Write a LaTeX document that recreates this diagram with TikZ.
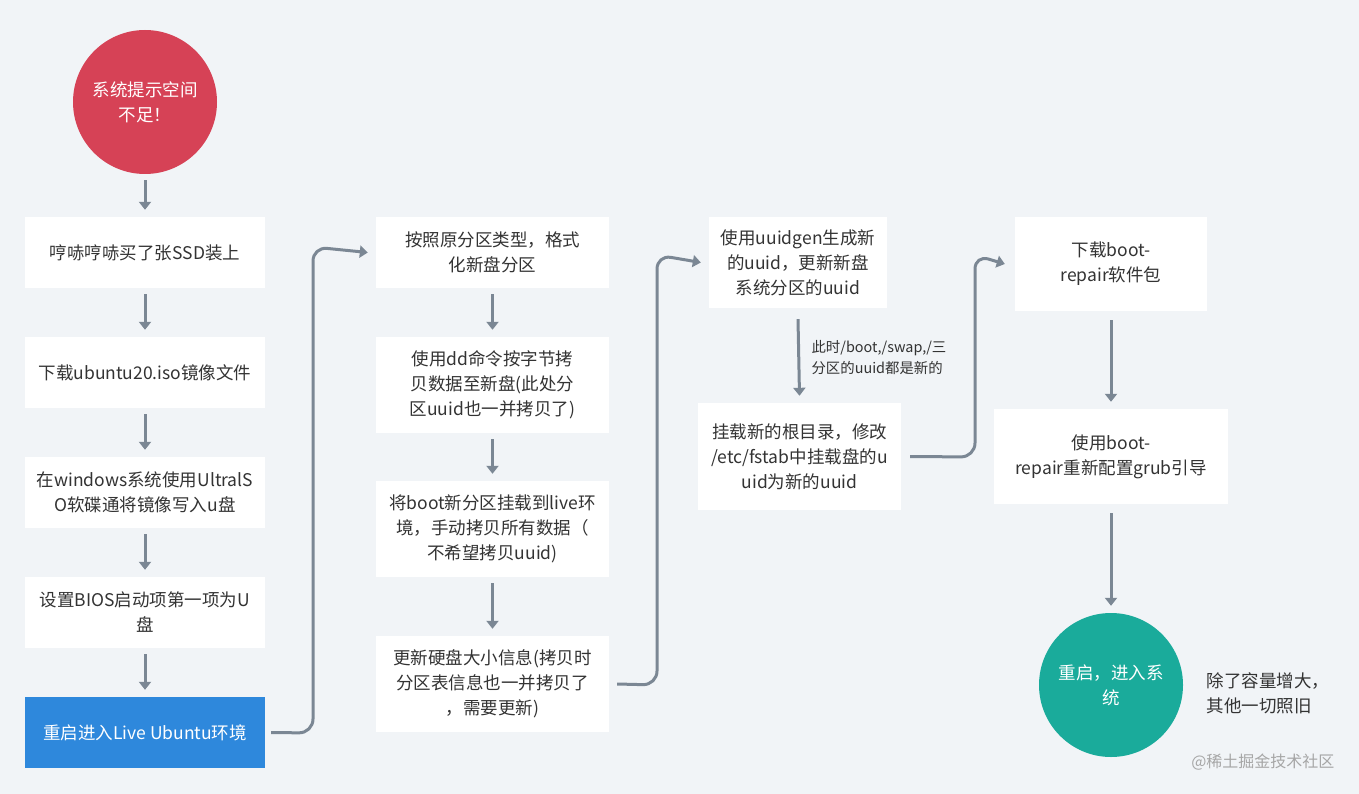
\documentclass[tikz,border=0pt]{standalone}
\usepackage{fontspec}
\setmainfont{Noto Sans CJK SC}
\usetikzlibrary{arrows.meta}
\definecolor{bg}{HTML}{F1F4F7}
\definecolor{ar}{HTML}{7B8794}
\definecolor{red1}{HTML}{D64256}
\definecolor{blu}{HTML}{2E88DC}
\definecolor{teal1}{HTML}{1AAB9B}
\definecolor{txt}{HTML}{333333}
\tikzset{
 box/.style={fill=white,text=txt,align=center,font=\fontsize{17.5}{25}\selectfont,inner sep=0pt},
 arr/.style={draw=ar,line width=3pt,-{Triangle[length=8pt,width=12pt]}},
 conn/.style={arr,rounded corners=14pt},
}
\begin{document}
\begin{tikzpicture}[x=1pt,y=-1pt]
\fill[bg] (0,0) rectangle (1359,794);
\useasboundingbox (0,0) rectangle (1359,794);
\node[circle,fill=red1,minimum size=144pt,text=white,align=center,font=\fontsize{17.5}{25}\selectfont] (s) at (145,102) {系统提示空间\\不足！};
\node[box,minimum width=240pt,minimum height=71pt] (b1) at (145,252.5) {哼哧哼哧买了张SSD装上};
\node[box,minimum width=240pt,minimum height=71pt] (b2) at (145,372.5) {下载ubuntu20.iso镜像文件};
\node[box,minimum width=240pt,minimum height=71pt] (b3) at (145,492.5) {在windows系统使用UltralS\\O软碟通将镜像写入u盘};
\node[box,minimum width=240pt,minimum height=71pt] (b4) at (145,612.5) {设置BIOS启动项第一项为U\\盘};
\node[box,fill=blu,text=white,minimum width=240pt,minimum height=71pt] (b5) at (145,732.5) {重启进入Live Ubuntu环境};
\foreach \a/\b in {s/b1,b1/b2,b2/b3,b3/b4,b4/b5} \draw[arr] ([yshift=-6pt]\a.south) -- ([yshift=7pt]\b.north);

\node[box,minimum width=233pt,minimum height=71pt] (c1) at (492.5,252.5) {按照原分区类型，格式\\化新盘分区};
\node[box,minimum width=233pt,minimum height=96pt] (c2) at (492.5,385) {使用dd命令按字节拷\\贝数据至新盘(此处分\\区uuid也一并拷贝了)};
\node[box,minimum width=233pt,minimum height=96pt] (c3) at (492.5,529) {将boot新分区挂载到live环\\境，手动拷贝所有数据（\\不希望拷贝uuid)};
\node[box,minimum width=233pt,minimum height=96pt] (c4) at (492.5,684) {更新硬盘大小信息(拷贝时\\分区表信息也一并拷贝了\\，需要更新)};
\foreach \a/\b in {c1/c2,c2/c3,c3/c4} \draw[arr] ([yshift=-6pt]\a.south) -- ([yshift=7pt]\b.north);
\draw[conn] ([xshift=6pt]b5.east) -- (313,733) -- (313,247) -- ([xshift=-8pt]c1.west);

\node[box,minimum width=178pt,minimum height=91pt] (d1) at (798,262.5) {使用uuidgen生成新\\的uuid，更新新盘\\系统分区的uuid};
\node[box,minimum width=203pt,minimum height=107pt] (d2) at (799.5,456.5) {挂载新的根目录，修改\\/etc/fstab中挂载盘的u\\uid为新的uuid};
\draw[arr] ([yshift=-11pt]d1.south) -- ([yshift=7pt]d2.north) node[midway,right=8pt,align=left,text=txt,font=\fontsize{14.4}{21}\selectfont] {此时/boot,/swap,/三\\分区的uuid都是新的};
\draw[conn] ([xshift=8pt]c4.east) -- (657,685) -- (657,255) -- ([xshift=-8pt]d1.west);

\node[box,minimum width=192pt,minimum height=94pt] (e1) at (1111,264) {下载boot-\\repair软件包};
\node[box,minimum width=234pt,minimum height=95pt] (e2) at (1111,456.5) {使用boot-\\repair重新配置grub引导};
\node[circle,fill=teal1,minimum size=144pt,text=white,align=center,font=\fontsize{17.5}{25}\selectfont] (f) at (1111,685) {重启，进入系\\统};
\draw[arr] ([yshift=-9pt]e1.south) -- ([yshift=7pt]e2.north);
\draw[arr] ([yshift=-9pt]e2.south) -- ([yshift=7pt]f.north);
\draw[conn] ([xshift=9pt]d2.east) -- (975,457) -- (975,255) -- ([xshift=-10pt]e1.west);

\node[align=left,anchor=west,text=txt,font=\fontsize{17.5}{25}\selectfont] (n) at (1203,693) {除了容量增大，\\其他一切照旧};
\node[anchor=east,text=gray!70,font=\fontsize{16}{18}\selectfont] (w) at (1338,762) {@稀土掘金技术社区};
\end{tikzpicture}
\end{document}
